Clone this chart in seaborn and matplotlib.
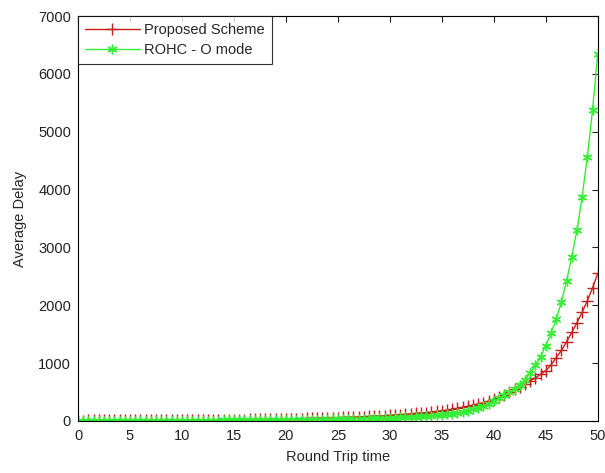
import numpy as np
import pandas as pd
import matplotlib
matplotlib.use("Agg")
import matplotlib.pyplot as plt
import seaborn as sns

x_values = [i * 0.5 for i in range(101)]

proposed = [8, 8, 9, 9, 9, 10, 10, 10, 11, 11,
            11, 12, 12, 12, 13, 13, 14, 14, 15, 15,
            16, 16, 17, 17, 18, 19, 19, 20, 21, 22,
            23, 24, 25, 26, 27, 28, 29, 31, 32, 34,
            35, 37, 39, 41, 43, 45, 47, 50, 52, 55,
            58, 61, 64, 68, 71, 75, 79, 84, 88, 93,
            98, 104, 110, 116, 123, 130, 138, 146, 155, 165,
            178, 190, 203, 218, 234, 252, 272, 294, 318, 345,
            375, 410, 450, 495, 545, 595, 645, 695, 745, 805,
            870, 970, 1090, 1220, 1370, 1530, 1700, 1880, 2080, 2300,
            2550]

rohc = [2, 2, 2, 2, 2, 3, 3, 3, 3, 3,
        3, 4, 4, 4, 4, 4, 5, 5, 5, 5,
        6, 6, 6, 7, 7, 7, 8, 8, 9, 9,
        10, 10, 11, 11, 12, 13, 13, 14, 15, 16,
        17, 18, 19, 20, 21, 22, 24, 25, 27, 28,
        30, 32, 34, 36, 38, 40, 42, 44, 46, 49,
        52, 56, 60, 64, 68, 73, 78, 84, 90, 97,
        104, 115, 128, 143, 160, 180, 203, 230, 262, 298,
        340, 390, 445, 500, 560, 630, 710, 830, 960, 1110,
        1300, 1520, 1760, 2060, 2420, 2840, 3300, 3880, 4570, 5380,
        6350]

labels = ["Proposed Scheme", "ROHC - O mode"]

df1 = pd.DataFrame({"x": x_values, "y": proposed})
df2 = pd.DataFrame({"x": x_values, "y": rohc})

sns.set_style("white")
plt.rcParams["font.family"] = ["Liberation Sans", "DejaVu Sans"]

fig = plt.figure(figsize=(6.05, 4.73), dpi=100)
ax = fig.add_axes([0.129, 0.110, 0.859, 0.856])

red = "#c81e1e"
green = "#33ee33"

sns.lineplot(data=df1, x="x", y="y", ax=ax, color=red, marker="+",
             markersize=8, markeredgewidth=1.0, markeredgecolor=red,
             linewidth=1.0, label=labels[0])
sns.lineplot(data=df2, x="x", y="y", ax=ax, color=green, marker=(6, 2, 0),
             markersize=7, markeredgewidth=1.0, markeredgecolor=green,
             linewidth=1.0, label=labels[1])

ax.set_xlim(0, 50)
ax.set_ylim(0, 7000)
ax.set_xticks(range(0, 51, 5))
ax.set_yticks(range(0, 7001, 1000))
ax.set_xlabel("Round Trip time", fontsize=10.5, labelpad=5)
ax.set_ylabel("Average Delay", fontsize=10.5, labelpad=8)
ax.tick_params(direction="in", length=4, width=0.8, top=True, right=True,
               labelsize=10.5, colors="#222222")
ax.tick_params(axis="x", pad=6)
ax.tick_params(axis="y", pad=5)
for s in ax.spines.values():
    s.set_visible(True)
    s.set_color("black")
    s.set_linewidth(0.8)

leg = ax.legend(loc="upper left", fontsize=10.5, frameon=True, fancybox=False,
                edgecolor="black", borderaxespad=0.0, handlelength=3.8,
                handletextpad=0.3, borderpad=0.45, labelspacing=0.45)
leg.get_frame().set_linewidth(0.8)

fig.savefig("out.png", dpi=100)
